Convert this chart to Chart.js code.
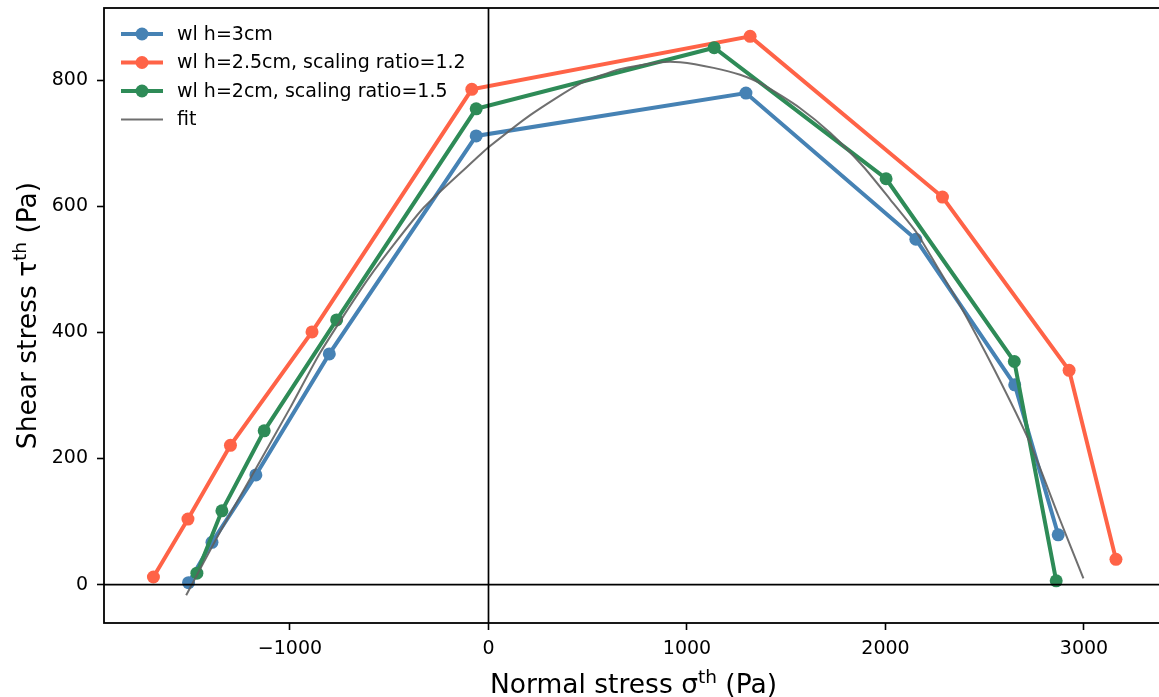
<!DOCTYPE html>
<html>
<head>
<meta charset="utf-8">
<script src="https://cdn.jsdelivr.net/npm/chart.js@4/dist/chart.umd.min.js"></script>
<style>
  html, body { margin: 0; padding: 0; background: #fff; overflow: hidden; }
  #wrap { width: 1175px; height: 697px; }
</style>
</head>
<body>
<div id="wrap"><canvas id="chart"></canvas></div>
<script>
// values
const labels = ['wl h=3cm', 'wl h=2.5cm, scaling ratio=1.2', 'wl h=2cm, scaling ratio=1.5', 'fit']

const sigma3cm = [-1511, -1393, -1172, -802, -62, 1297, 2153, 2651, 2870]
const tau3cm = [3, 67, 174, 366, 712, 780, 548, 317, 79]

const sigma25cm = [-1688, -1514, -1300, -889, -84, 1318, 2287, 2925, 3161]
const tau25cm = [12, 104, 221, 401, 786, 870, 615, 340, 40]

const sigma2cm = [-1469, -1343, -1130, -765, -62, 1137, 2003, 2649, 2860]
const tau2cm = [18, 117, 244, 420, 755, 852, 644, 354, 6]

const sigmaFit = [-1523, -1350, -1190, -1000, -848, -600, -327, -42, 0, 210, 462, 663, 865, 966,
  1134, 1268, 1385, 1570, 1721, 1889, 2024, 2158, 2259, 2360, 2550, 2729, 2870, 2997]
const tauFit = [-17, 85, 174, 280, 368, 488, 598, 682, 694, 745, 795, 818, 829, 829,
  820, 809, 793, 756, 717, 663, 611, 558, 505, 452, 340, 224, 110, 10]

const xTicks = [-1000, 0, 1000, 2000, 3000]
const yTicks = [0, 200, 400, 600, 800]

const xTitle = [['Normal stress σ', 0], ['th', 1], [' (Pa)', 0]]
const yTitle = [['Shear stress τ', 0], ['th', 1], [' (Pa)', 0]]

const colors = ['#4682b4', '#ff6347', '#2e8b57', 'rgba(95, 95, 95, 0.9)']

const FONT = "'DejaVu Sans', sans-serif"
Chart.defaults.font.family = FONT
Chart.defaults.color = '#000'

const pts = (xs, ys) => xs.map((x, i) => ({ x, y: ys[i] }))

function series(i, xs, ys, order) {
  return {
    label: labels[i], data: pts(xs, ys), order,
    borderColor: colors[i], backgroundColor: colors[i],
    borderWidth: 4, pointRadius: 6.5, pointHoverRadius: 6.5,
    pointBorderWidth: 0, tension: 0
  }
}

const fitSet = {
  label: labels[3], data: pts(sigmaFit, tauFit), order: 1,
  borderColor: colors[3], borderWidth: 2, pointRadius: 0, tension: 0.2
}

// draws text pieces with a raised, smaller "th"
function drawSup(ctx, parts, x, y) {
  const big = '26.5px ' + FONT, small = '18.5px ' + FONT
  let total = 0
  parts.forEach(([t, sup]) => { ctx.font = sup ? small : big; total += ctx.measureText(t).width })
  let cx = x - total / 2
  parts.forEach(([t, sup]) => {
    ctx.font = sup ? small : big
    ctx.fillText(t, cx, sup ? y - 10 : y)
    cx += ctx.measureText(t).width
  })
}

const decor = {
  id: 'decor',
  afterDatasetsDraw(chart) {
    const { ctx, chartArea: a, scales } = chart
    ctx.save()
    ctx.strokeStyle = '#000'
    // zero lines
    ctx.lineWidth = 1.7
    const x0 = scales.x.getPixelForValue(0)
    const y0 = scales.y.getPixelForValue(0)
    ctx.beginPath()
    ctx.moveTo(x0, a.top); ctx.lineTo(x0, a.bottom)
    ctx.moveTo(a.left, y0); ctx.lineTo(a.right, y0)
    ctx.stroke()
    // frame
    ctx.lineWidth = 1.8
    ctx.strokeRect(a.left, a.top, a.right - a.left, a.bottom - a.top)
    ctx.restore()
  },
  afterDraw(chart) {
    const { ctx, chartArea: a } = chart
    ctx.save()
    ctx.fillStyle = '#000'
    ctx.textBaseline = 'alphabetic'
    drawSup(ctx, xTitle, (a.left + a.right) / 2, 693)
    ctx.translate(36, (a.top + a.bottom) / 2)
    ctx.rotate(-Math.PI / 2)
    drawSup(ctx, yTitle, 0, 0)
    ctx.restore()

    // legend, top left, no frame
    ctx.save()
    ctx.font = '19px ' + FONT
    ctx.textBaseline = 'middle'
    chart.data.datasets.forEach((ds, i) => {
      const y = 34 + i * 28.5
      ctx.strokeStyle = ds.borderColor
      ctx.lineWidth = ds.borderWidth
      ctx.beginPath(); ctx.moveTo(121, y); ctx.lineTo(163, y); ctx.stroke()
      if (ds.pointRadius > 0) {
        ctx.fillStyle = ds.borderColor
        ctx.beginPath(); ctx.arc(142, y, 6.5, 0, Math.PI * 2); ctx.fill()
      }
      ctx.fillStyle = '#000'
      ctx.fillText(ds.label, 177, y + 1)
    })
    ctx.restore()
  }
}

const fmt = (v) => (v < 0 ? '\u2212' + Math.abs(v) : String(v))

new Chart(document.getElementById('chart'), {
  type: 'line',
  data: {
    datasets: [
      series(0, sigma3cm, tau3cm, 4),
      series(1, sigma25cm, tau25cm, 3),
      series(2, sigma2cm, tau2cm, 2),
      fitSet
    ]
  },
  options: {
    animation: false,
    responsive: true,
    maintainAspectRatio: false,
    layout: { padding: { top: 8, right: 12, left: 0, bottom: 0 } },
    plugins: { legend: { display: false }, tooltip: { enabled: false } },
    scales: {
      x: {
        type: 'linear', min: -1937, max: 3398,
        afterFit: (s) => { s.height = 74; s.paddingLeft = 0; s.paddingRight = 0 },
        afterBuildTicks: (s) => { s.ticks = xTicks.map((v) => ({ value: v })) },
        grid: { drawOnChartArea: false, drawTicks: true, tickLength: 7, tickWidth: 1.6, color: '#000' },
        border: { display: false },
        ticks: { font: { size: 19 }, padding: 8, maxRotation: 0, callback: fmt }
      },
      y: {
        type: 'linear', min: -61, max: 915,
        afterFit: (s) => { s.width = 104; s.paddingTop = 0; s.paddingBottom = 0 },
        afterBuildTicks: (s) => { s.ticks = yTicks.map((v) => ({ value: v })) },
        grid: { drawOnChartArea: false, drawTicks: true, tickLength: 7, tickWidth: 1.6, color: '#000' },
        border: { display: false },
        ticks: { font: { size: 19 }, padding: 9, callback: fmt }
      }
    }
  },
  plugins: [decor]
})
</script>
</body>
</html>
